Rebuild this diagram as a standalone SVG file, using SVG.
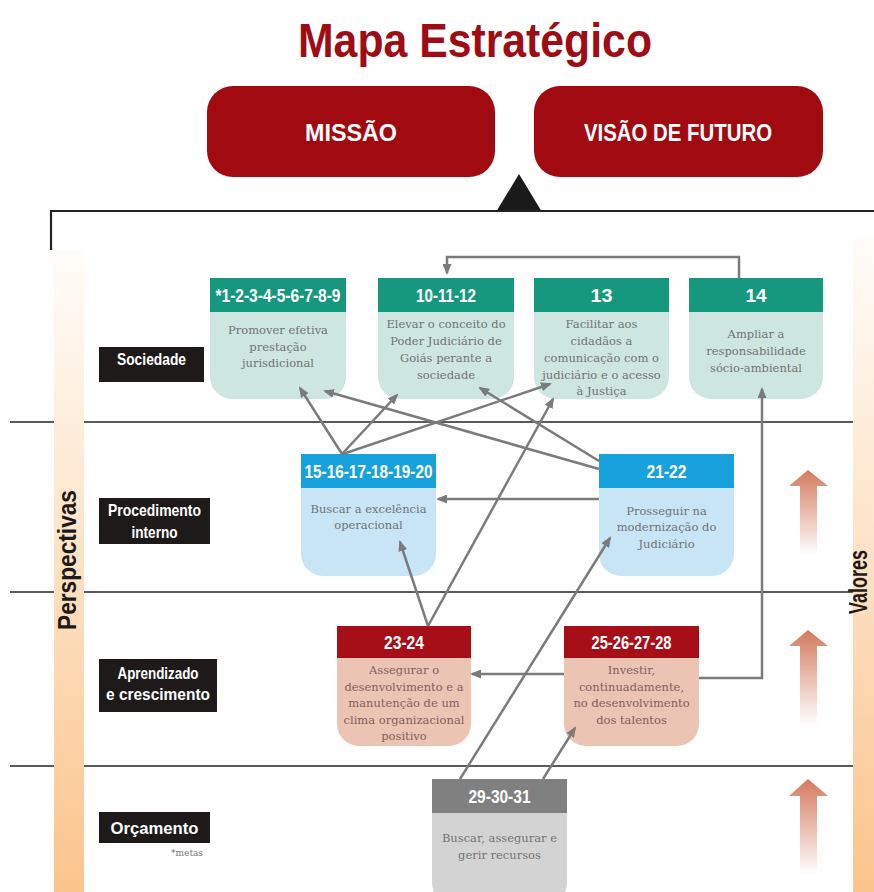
<svg xmlns="http://www.w3.org/2000/svg" width="874" height="892" viewBox="0 0 874 892">
<style>
.ttl{font-family:"Liberation Sans",Arial,sans-serif;font-weight:bold;fill:#9e0c16}
.cap{font-family:"Liberation Sans",Arial,sans-serif;font-weight:bold;fill:#ffffff;text-anchor:middle}
.lbl{font-family:"Liberation Sans",Arial,sans-serif;font-weight:bold;fill:#ffffff;text-anchor:middle;font-size:17px}
.hd{font-family:"Liberation Sans",Arial,sans-serif;font-weight:bold;fill:#ffffff;text-anchor:middle;font-size:18px}
.bt{font-family:"DejaVu Serif","Liberation Serif",serif;font-size:11.5px;fill:#737373;text-anchor:middle}
.btr{font-family:"DejaVu Serif","Liberation Serif",serif;font-size:11.5px;fill:#85605a;text-anchor:middle}
.side{font-family:"Liberation Sans",Arial,sans-serif;font-weight:bold;fill:#1e1a1a;text-anchor:middle;font-size:26px}
.sep{stroke:#5a5a5a;stroke-width:2;fill:none}
.frame{stroke:#222;stroke-width:2.2;fill:none}
.con{stroke:#7b7b7b;stroke-width:2.5;fill:none}
.lbox{fill:#1e1a1a}
.th{fill:#16987f}.tb{fill:#cde6e0}
.bh{fill:#18a2dc}.bb{fill:#c7e5f5}
.rh{fill:#a60e18}.rb{fill:#ebc4b4}
.gh{fill:#808080}.gb{fill:#d3d3d3}
</style>
<defs>
<linearGradient id="barL" x1="0" y1="0" x2="0" y2="1">
<stop offset="0" stop-color="#fffdfa"/><stop offset="1" stop-color="#fbc48c"/>
</linearGradient>
<linearGradient id="valArr" x1="0" y1="0" x2="0" y2="1">
<stop offset="0" stop-color="#d47a60"/><stop offset="1" stop-color="#ffffff"/>
</linearGradient>
<marker id="ah" markerWidth="11" markerHeight="9" refX="9" refY="4.5" orient="auto" markerUnits="userSpaceOnUse">
<path d="M0,0 L11,4.5 L0,9 z" fill="#7b7b7b"/>
</marker>
</defs>
<rect width="874" height="892" fill="#ffffff"/>

<text class="ttl" x="475" y="57" font-size="48" text-anchor="middle" textLength="354" lengthAdjust="spacingAndGlyphs">Mapa Estratégico</text>

<g id="missao">
<rect x="207" y="86" width="288" height="91" rx="26" fill="#a20a12"/>
<text class="cap" x="351" y="141" font-size="24" textLength="92" lengthAdjust="spacingAndGlyphs">MISSÃO</text>
</g>
<g id="visao">
<rect x="534" y="86" width="289" height="91" rx="26" fill="#a20a12"/>
<text class="cap" x="678" y="141" font-size="24" textLength="188" lengthAdjust="spacingAndGlyphs">VISÃO DE FUTURO</text>
</g>

<g id="frame">
<polygon points="496,212 542,212 519,174" fill="#1a1a1a"/>
<path class="frame" d="M51,250 V211 H874"/>
</g>

<g id="separators">
<line class="sep" x1="10" y1="422" x2="853" y2="422"/>
<line class="sep" x1="10" y1="592" x2="853" y2="592"/>
<line class="sep" x1="10" y1="766" x2="853" y2="766"/>
</g>

<g id="perspectivas">
<rect x="54" y="250" width="30" height="642" fill="url(#barL)"/>
<text class="side" transform="translate(76,560) rotate(-90)" textLength="140" lengthAdjust="spacingAndGlyphs">Perspectivas</text>
</g>
<g id="valores">
<rect x="853" y="235" width="21" height="657" fill="url(#barL)"/>
<text class="side" transform="translate(867,582) rotate(-90)" font-size="24" textLength="64" lengthAdjust="spacingAndGlyphs">Valores</text>
</g>

<g id="label-sociedade">
<rect class="lbox" x="99" y="347" width="105" height="35"/>
<text class="lbl" x="151.5" y="365" textLength="69" lengthAdjust="spacingAndGlyphs">Sociedade</text>
</g>
<g id="label-procedimento">
<rect class="lbox" x="99" y="498" width="111" height="46"/>
<text class="lbl" x="154.5" y="516" textLength="93" lengthAdjust="spacingAndGlyphs">Procedimento</text>
<text class="lbl" x="154.5" y="538" textLength="46" lengthAdjust="spacingAndGlyphs">interno</text>
</g>
<g id="label-aprendizado">
<rect class="lbox" x="99" y="659" width="118" height="53"/>
<text class="lbl" x="158" y="679" textLength="81" lengthAdjust="spacingAndGlyphs">Aprendizado</text>
<text class="lbl" x="158" y="700" textLength="104" lengthAdjust="spacingAndGlyphs">e crescimento</text>
</g>
<g id="label-orcamento">
<rect class="lbox" x="99" y="812" width="111" height="31"/>
<text class="lbl" x="154.5" y="834" font-size="21" textLength="88" lengthAdjust="spacingAndGlyphs">Orçamento</text>
<text x="203" y="856" font-family="DejaVu Serif, Liberation Serif, serif" font-size="9" fill="#777" text-anchor="end">*metas</text>
</g>

<g id="n1">
<rect class="th" x="210" y="278" width="136" height="34"/>
<path class="tb" d="M210,312 H346 V377 A22,22 0 0 1 324,399 H232 A22,22 0 0 1 210,377 Z"/>
<text class="hd" x="278" y="302" textLength="125" lengthAdjust="spacingAndGlyphs">*1-2-3-4-5-6-7-8-9</text>
<text class="bt" x="278" y="334">Promover efetiva</text>
<text class="bt" x="278" y="351">prestação</text>
<text class="bt" x="278" y="367">jurisdicional</text>
</g>
<g id="n2">
<rect class="th" x="378" y="278" width="136" height="34"/>
<path class="tb" d="M378,312 H514 V377 A22,22 0 0 1 492,399 H400 A22,22 0 0 1 378,377 Z"/>
<text class="hd" x="446" y="302" textLength="60" lengthAdjust="spacingAndGlyphs">10-11-12</text>
<text class="bt" x="446" y="328">Elevar o conceito do</text>
<text class="bt" x="446" y="345">Poder Judiciário de</text>
<text class="bt" x="446" y="362">Goiás perante a</text>
<text class="bt" x="446" y="379">sociedade</text>
</g>
<g id="n3">
<rect class="th" x="534" y="278" width="135" height="34"/>
<path class="tb" d="M534,312 H669 V377 A22,22 0 0 1 647,399 H556 A22,22 0 0 1 534,377 Z"/>
<text class="hd" x="601.5" y="302" textLength="22" lengthAdjust="spacingAndGlyphs">13</text>
<text class="bt" x="601.5" y="328">Facilitar aos</text>
<text class="bt" x="601.5" y="345">cidadãos a</text>
<text class="bt" x="601.5" y="362">comunicação com o</text>
<text class="bt" x="601.5" y="379">judiciário e o acesso</text>
<text class="bt" x="601.5" y="395">à Justiça</text>
</g>
<g id="n4">
<rect class="th" x="689" y="278" width="134" height="34"/>
<path class="tb" d="M689,312 H823 V377 A22,22 0 0 1 801,399 H711 A22,22 0 0 1 689,377 Z"/>
<text class="hd" x="756" y="302" textLength="21" lengthAdjust="spacingAndGlyphs">14</text>
<text class="bt" x="756" y="338">Ampliar a</text>
<text class="bt" x="756" y="355">responsabilidade</text>
<text class="bt" x="756" y="372">sócio-ambiental</text>
</g>
<g id="n5">
<rect class="bh" x="301" y="454" width="135" height="34"/>
<path class="bb" d="M301,488 H436 V554 A22,22 0 0 1 414,576 H323 A22,22 0 0 1 301,554 Z"/>
<text class="hd" x="368.5" y="478" textLength="128" lengthAdjust="spacingAndGlyphs">15-16-17-18-19-20</text>
<text class="bt" x="368.5" y="513">Buscar a excelência</text>
<text class="bt" x="368.5" y="529">operacional</text>
</g>
<g id="n6">
<rect class="bh" x="599" y="454" width="135" height="34"/>
<path class="bb" d="M599,488 H734 V554 A22,22 0 0 1 712,576 H621 A22,22 0 0 1 599,554 Z"/>
<text class="hd" x="666.5" y="478" textLength="40" lengthAdjust="spacingAndGlyphs">21-22</text>
<text class="bt" x="666.5" y="515">Prosseguir na</text>
<text class="bt" x="666.5" y="531">modernização do</text>
<text class="bt" x="666.5" y="548">Judiciário</text>
</g>
<g id="n7">
<rect class="rh" x="337" y="626" width="134" height="32"/>
<path class="rb" d="M337,658 H471 V724 A22,22 0 0 1 449,746 H359 A22,22 0 0 1 337,724 Z"/>
<text class="hd" x="404" y="649" textLength="40" lengthAdjust="spacingAndGlyphs">23-24</text>
<text class="btr" x="404" y="674">Assegurar o</text>
<text class="btr" x="404" y="691">desenvolvimento e a</text>
<text class="btr" x="404" y="707">manutenção de um</text>
<text class="btr" x="404" y="724">clima organizacional</text>
<text class="btr" x="404" y="740">positivo</text>
</g>
<g id="n8">
<rect class="rh" x="564" y="626" width="135" height="32"/>
<path class="rb" d="M564,658 H699 V724 A22,22 0 0 1 677,746 H586 A22,22 0 0 1 564,724 Z"/>
<text class="hd" x="631.5" y="649" textLength="80" lengthAdjust="spacingAndGlyphs">25-26-27-28</text>
<text class="btr" x="631.5" y="674">Investir,</text>
<text class="btr" x="631.5" y="691">continuadamente,</text>
<text class="btr" x="631.5" y="707">no desenvolvimento</text>
<text class="btr" x="631.5" y="724">dos talentos</text>
</g>
<g id="n9">
<rect class="gh" x="432" y="779" width="135" height="34"/>
<path class="gb" d="M432,813 H567 V883 A22,22 0 0 1 545,905 H454 A22,22 0 0 1 432,883 Z"/>
<text class="hd" x="499.5" y="803" textLength="62" lengthAdjust="spacingAndGlyphs">29-30-31</text>
<text class="bt" x="499.5" y="842">Buscar, assegurar e</text>
<text class="bt" x="499.5" y="859">gerir recursos</text>
</g>

<g id="connectors">
<path class="con" d="M739,278 V257 H447 V273" marker-end="url(#ah)"/>
<line class="con" x1="342" y1="454" x2="300" y2="388" marker-end="url(#ah)"/>
<line class="con" x1="342" y1="454" x2="397" y2="395" marker-end="url(#ah)"/>
<line class="con" x1="343" y1="454" x2="550" y2="384" marker-end="url(#ah)"/>
<line class="con" x1="599" y1="469" x2="325" y2="391" marker-end="url(#ah)"/>
<line class="con" x1="599" y1="461" x2="480" y2="388" marker-end="url(#ah)"/>
<line class="con" x1="599" y1="499" x2="438" y2="499" marker-end="url(#ah)"/>
<line class="con" x1="428" y1="626" x2="400" y2="542" marker-end="url(#ah)"/>
<line class="con" x1="428" y1="626" x2="553" y2="399" marker-end="url(#ah)"/>
<line class="con" x1="460" y1="779" x2="610" y2="538" marker-end="url(#ah)"/>
<line class="con" x1="543" y1="779" x2="575" y2="728" marker-end="url(#ah)"/>
<line class="con" x1="564" y1="674" x2="472" y2="674" marker-end="url(#ah)"/>
<path class="con" d="M699,678 H762 V389" marker-end="url(#ah)"/>
</g>

<g id="value-arrows" fill="url(#valArr)">
<path d="M808,470 L828,486 L817,486 L817,555 L800,555 L800,486 L789,486 Z"/>
<path d="M808,630 L828,646 L817,646 L817,725 L800,725 L800,646 L789,646 Z"/>
<path d="M808,779 L828,796 L817,796 L817,875 L800,875 L800,796 L789,796 Z"/>
</g>
</svg>
